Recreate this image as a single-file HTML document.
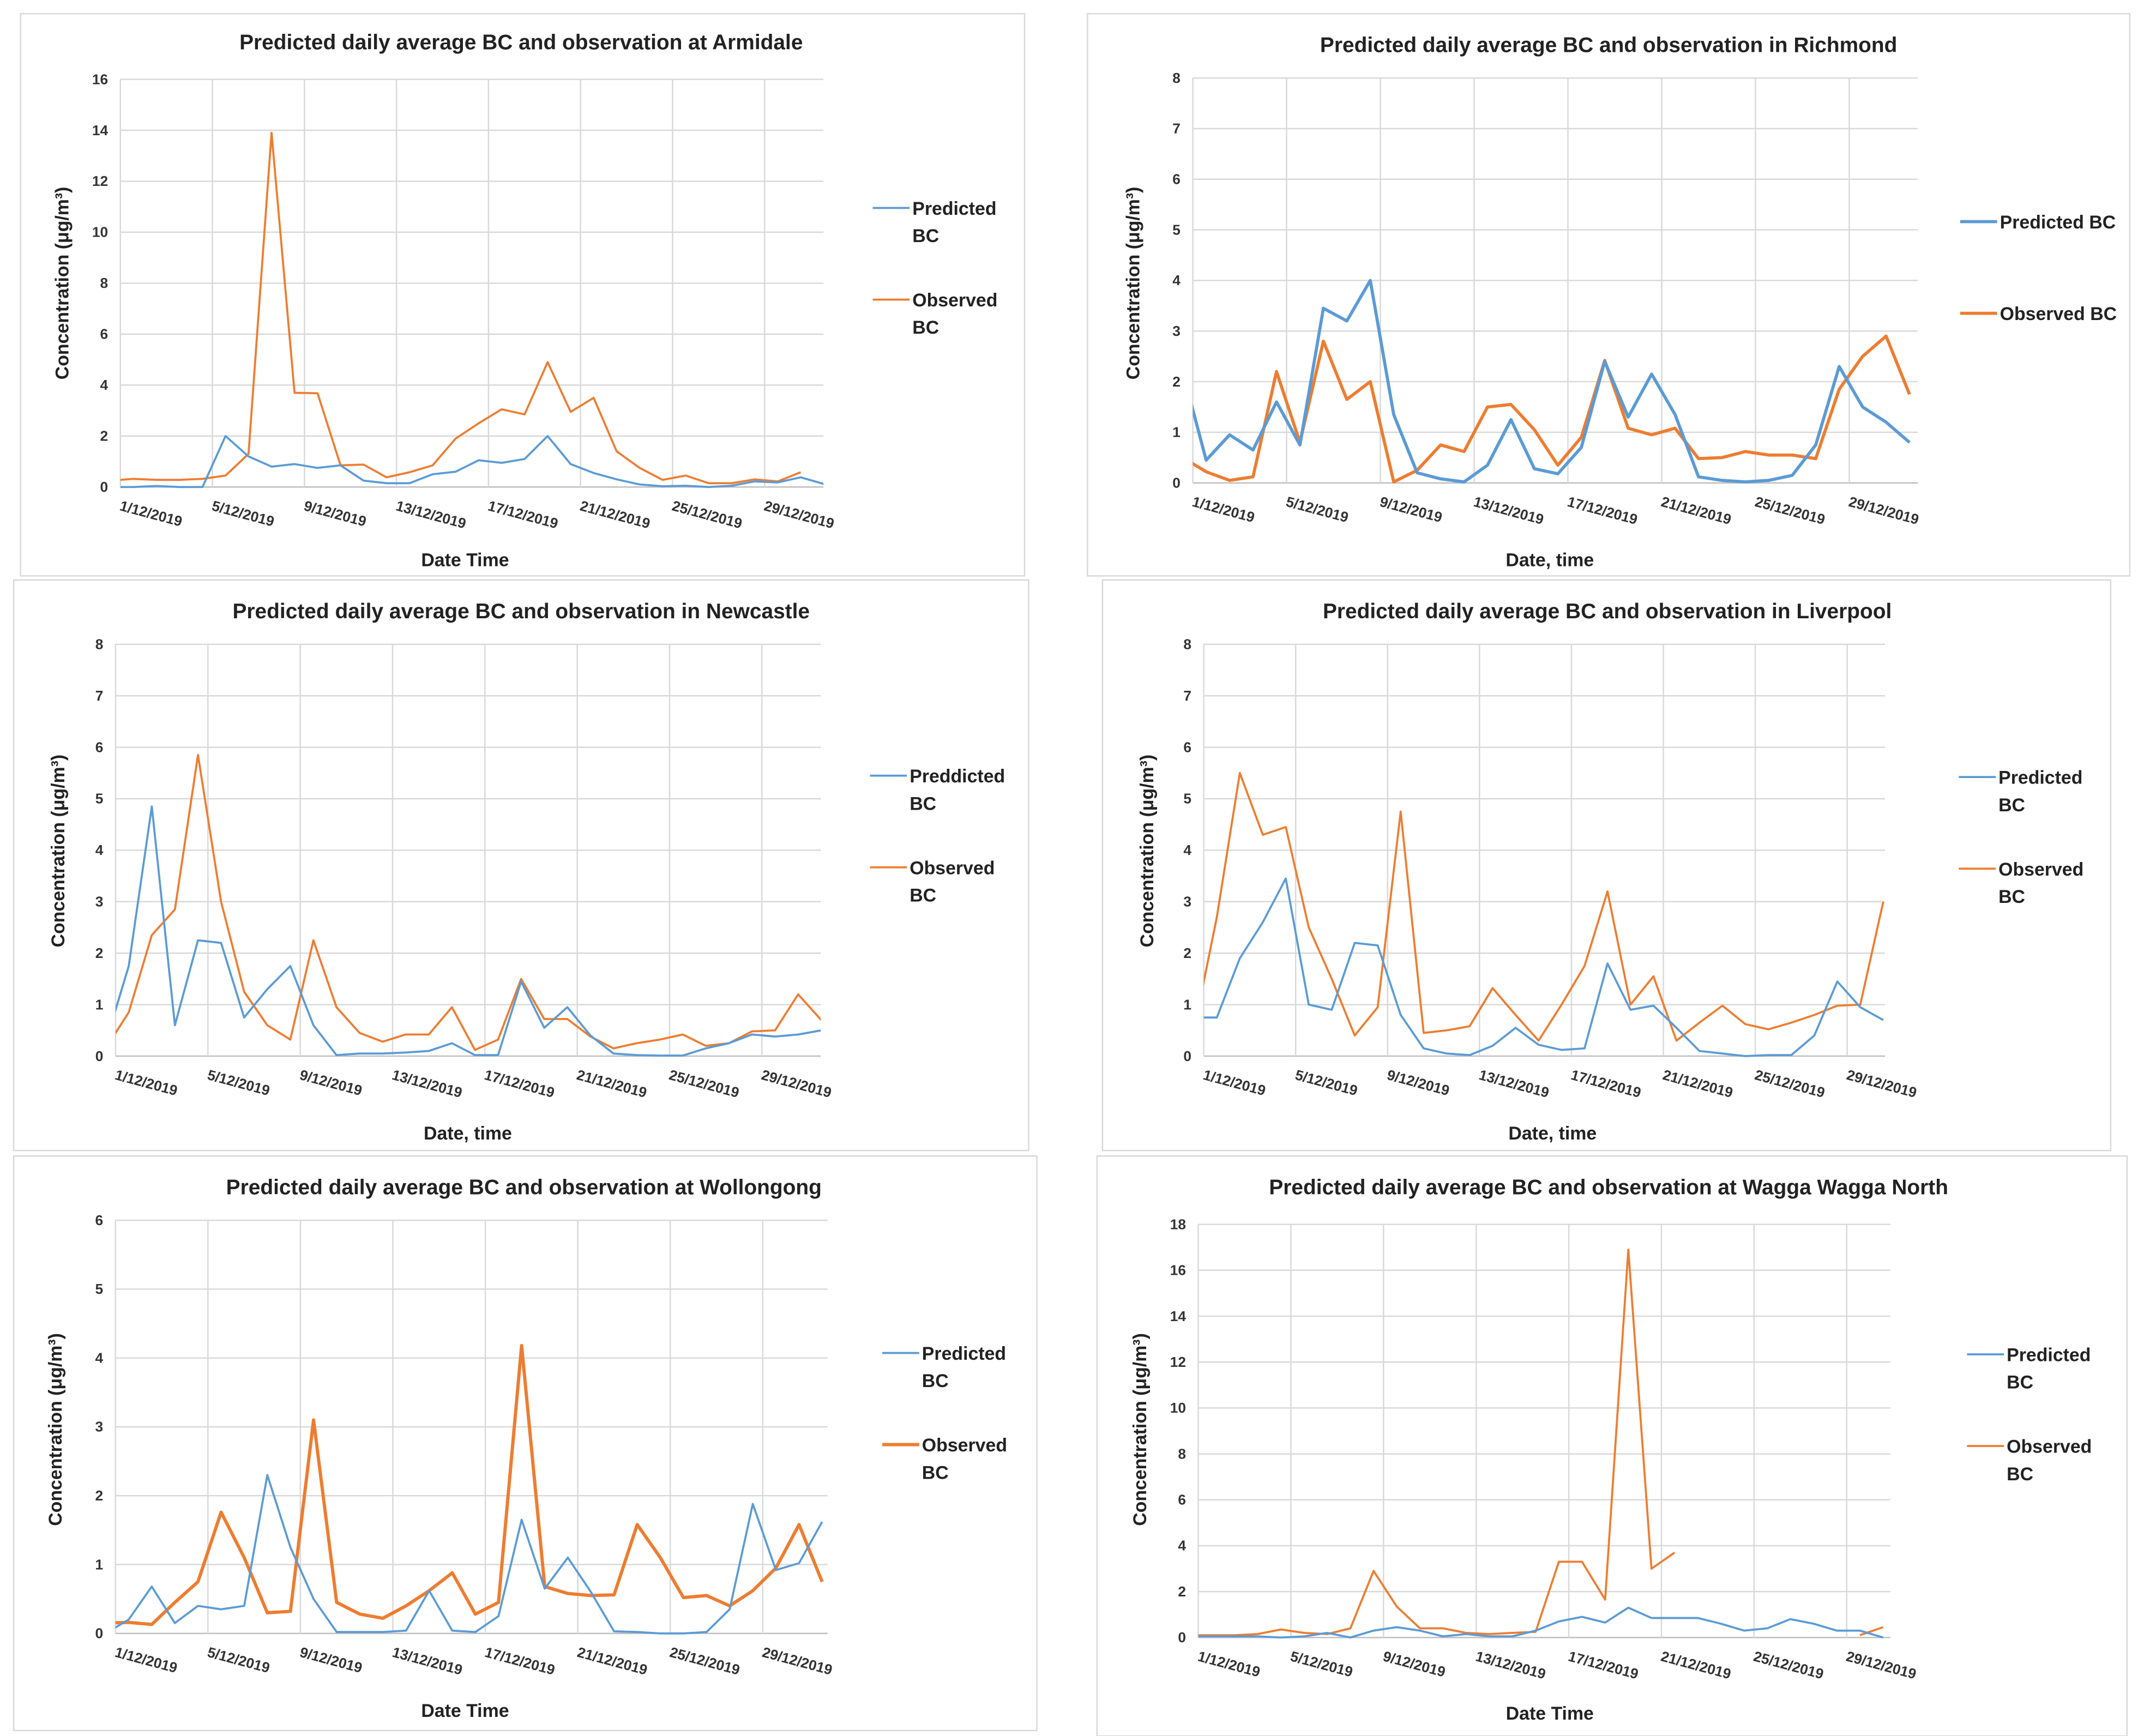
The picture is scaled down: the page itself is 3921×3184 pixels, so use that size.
<!DOCTYPE html>
<html><head><meta charset="utf-8"><style>
html,body{margin:0;padding:0;background:#fff;}
svg{display:block;font-family:"Liberation Sans",Arial,sans-serif;}
.t{font-weight:bold;font-size:15.5px;fill:#222;}
.ax{font-weight:bold;font-size:13.5px;fill:#222;}
.tk{font-weight:bold;font-size:10.5px;fill:#333;}
.lg{font-weight:bold;font-size:13.5px;fill:#222;}
</style></head><body>
<svg id="root" width="3921" height="3184" viewBox="0 0 1563 1269" preserveAspectRatio="none" xmlns="http://www.w3.org/2000/svg"></svg>
<script>
const dateLabels = ["1/12/2019","5/12/2019","9/12/2019","13/12/2019","17/12/2019","21/12/2019","25/12/2019","29/12/2019"];
const armidalePred = [0,0,0.04,0,0,2.0,1.2,0.8,0.9,0.75,0.85,0.25,0.15,0.15,0.5,0.6,1.05,0.95,1.1,2.0,0.9,0.55,0.3,0.1,0.03,0.05,0,0.05,0.22,0.18,0.38,0.12];
const armidaleObs = [0.25,0.32,0.28,0.28,0.32,0.45,1.3,13.9,3.7,3.68,0.85,0.88,0.38,0.58,0.85,1.9,2.5,3.05,2.85,4.9,2.95,3.5,1.4,0.75,0.28,0.45,0.15,0.15,0.3,0.22,0.58,null];
const richmondPred = [2.2,0.45,0.95,0.65,1.6,0.75,3.45,3.2,4.0,1.35,0.2,0.08,0.02,0.35,1.25,0.28,0.18,0.7,2.4,1.3,2.15,1.35,0.12,0.05,0.02,0.05,0.15,0.75,2.3,1.5,1.2,0.8];
const richmondObs = [0.5,0.22,0.05,0.12,2.2,0.8,2.8,1.65,2.0,0.02,0.25,0.75,0.62,1.5,1.55,1.05,0.35,0.9,2.42,1.08,0.95,1.08,0.48,0.5,0.62,0.55,0.55,0.48,1.85,2.5,2.9,1.75];
const newcastlePred = [0.26,1.75,4.85,0.6,2.25,2.2,0.75,1.3,1.75,0.6,0.02,0.05,0.05,0.07,0.1,0.25,0.02,0.02,1.45,0.55,0.95,0.4,0.05,0.02,0.01,0.01,0.15,0.25,0.42,0.38,0.42,0.5];
const newcastleObs = [0.15,0.85,2.35,2.85,5.85,3.0,1.25,0.6,0.32,2.25,0.95,0.45,0.28,0.42,0.42,0.95,0.12,0.32,1.5,0.72,0.72,0.38,0.15,0.25,0.32,0.42,0.2,0.25,0.48,0.5,1.2,0.7];
const liverpoolPred = [0.75,0.75,1.9,2.6,3.45,1.0,0.9,2.2,2.15,0.8,0.15,0.05,0.02,0.2,0.55,0.22,0.12,0.15,1.8,0.9,0.98,0.55,0.1,0.05,0.0,0.02,0.02,0.4,1.45,0.95,0.7];
const liverpoolObs = [0.5,2.7,5.5,4.3,4.45,2.5,1.5,0.4,0.95,4.75,0.45,0.5,0.58,1.32,0.8,0.3,1.0,1.75,3.2,1.0,1.55,0.3,0.65,0.98,0.62,0.52,0.65,0.8,0.98,1.0,3.0];
const wollongongPred = [0.0,0.2,0.68,0.15,0.4,0.35,0.4,2.3,1.25,0.5,0.02,0.02,0.02,0.04,0.62,0.04,0.02,0.25,1.65,0.65,1.1,0.6,0.03,0.02,0,0,0.02,0.35,1.88,0.92,1.02,1.62];
const wollongongObs = [0.15,0.16,0.13,0.45,0.75,1.76,1.1,0.3,0.32,3.1,0.45,0.28,0.22,0.4,0.62,0.88,0.28,0.45,4.18,0.68,0.58,0.55,0.56,1.58,1.1,0.52,0.55,0.4,0.62,0.95,1.58,0.75];
const waggaPred = [0.05,0.05,0.05,0.05,0.0,0.05,0.2,0.0,0.3,0.45,0.3,0.05,0.15,0.05,0.05,0.3,0.7,0.9,0.65,1.3,0.85,0.85,0.85,0.6,0.3,0.4,0.8,0.6,0.3,0.3,0.0];
const waggaObs = [0.1,0.1,0.1,0.15,0.35,0.2,0.15,0.4,2.9,1.35,0.4,0.4,0.2,0.15,0.2,0.25,3.3,3.3,1.65,16.9,3.0,3.7,null,null,null,null,null,null,null,0.1,0.45];

const NS="http://www.w3.org/2000/svg";
const root=document.getElementById('root');
function mk(tag,attrs,parent){const e=document.createElementNS(NS,tag);for(const k in attrs)e.setAttribute(k,attrs[k]);(parent||root).appendChild(e);return e;}

const panels=[
 {id:'armidale',fr:[15,10,734,411],title:'Predicted daily average BC and observation at Armidale',tx:381,ty:31,
  xg0:88,dd:16.82,xr:602,yb:356,yt:58,ymax:16,step:2,pred:armidalePred,obs:armidaleObs,
  lgx:638,lgy:152,lp:['Predicted','BC'],lo:['Observed','BC'],xt:'Date Time',xtx:340,xty:409,ytx:45,yty:207,pw:1.5,ow:1.5},
 {id:'richmond',fr:[795,10,762,411],title:'Predicted daily average BC and observation in Richmond',tx:1176,ty:33,
  xg0:872,dd:17.14,xr:1402,yb:353,yt:57,ymax:8,step:1,pred:richmondPred,obs:richmondObs,
  lgx:1433,lgy:162,lp:['Predicted BC'],lo:['Observed BC'],xt:'Date, time',xtx:1133,xty:409,ytx:828,yty:207,pw:2.3,ow:2.3},
 {id:'newcastle',fr:[10,424,742,417],title:'Predicted daily average BC and observation in Newcastle',tx:381,ty:447,
  xg0:84.5,dd:16.875,xr:600,yb:772,yt:471,ymax:8,step:1,pred:newcastlePred,obs:newcastleObs,
  lgx:636,lgy:567,lp:['Preddicted','BC'],lo:['Observed','BC'],xt:'Date, time',xtx:342,xty:828,ytx:42,yty:622,pw:1.5,ow:1.5},
 {id:'liverpool',fr:[806,424,737,417],title:'Predicted daily average BC and observation in Liverpool',tx:1175,ty:447,
  xg0:880,dd:16.8,xr:1378,yb:772,yt:471,ymax:8,step:1,pred:liverpoolPred,obs:liverpoolObs,
  lgx:1432,lgy:568,lp:['Predicted','BC'],lo:['Observed','BC'],xt:'Date, time',xtx:1135,xty:828,ytx:838,yty:622,pw:1.5,ow:1.5},
 {id:'wollongong',fr:[10,845,748,420],title:'Predicted daily average BC and observation at Wollongong',tx:383,ty:868,
  xg0:84.4,dd:16.9,xr:605,yb:1194,yt:892,ymax:6,step:1,pred:wollongongPred,obs:wollongongObs,
  lgx:645,lgy:989,lp:['Predicted','BC'],lo:['Observed','BC'],xt:'Date Time',xtx:340,xty:1250,ytx:40,yty:1045,pw:1.5,ow:2.4},
 {id:'wagga',fr:[802,845,753,424],title:'Predicted daily average BC and observation at Wagga Wagga North',tx:1176,ty:868,
  xg0:876,dd:16.93,xr:1382,yb:1197,yt:895,ymax:18,step:2,pred:waggaPred,obs:waggaObs,
  lgx:1438,lgy:990,lp:['Predicted','BC'],lo:['Observed','BC'],xt:'Date Time',xtx:1133,xty:1252,ytx:833,yty:1045,pw:1.5,ow:1.5}
];
const BLUE='#5b9bd5', ORANGE='#ed7d31';

panels.forEach(p=>{
  const g=mk('g',{});
  
  
  const fr=mk('rect',{x:p.fr[0],y:p.fr[1],width:p.fr[2],height:p.fr[3],fill:'#fff',stroke:'#d9d9d9','stroke-width':1},g);
  
  
  const yS=v=>p.yb-(v/p.ymax)*(p.yb-p.yt);
  const xS=i=>p.xg0+(i-0.43)*p.dd;
  for(let v=0;v<=p.ymax+1e-9;v+=p.step){
    const y=yS(v);
    const gl=mk('line',{x1:p.xg0,x2:p.xr,y1:y,y2:y,stroke:v===0?'#bfbfbf':'#d9d9d9','stroke-width':1},g);
    
    
    const t=mk('text',{x:p.xg0-9,y:y+3.5,'text-anchor':'end',class:'tk'},g);
    t.textContent=String(v);
    
    
  }
  dateLabels.forEach((d,k)=>{
    const x=p.xg0+k*4*p.dd;
    const vl=mk('line',{x1:x,x2:x,y1:p.yt,y2:p.yb,stroke:'#d9d9d9','stroke-width':1},g);
    
    
    const t=mk('text',{x:x,y:p.yb+17,class:'tk',transform:`rotate(15 ${x} ${p.yb+13})`},g);
    t.textContent=d;
    
    
  });
  const cp=mk('clipPath',{id:'clip-'+p.id},g);
  mk('rect',{x:p.xg0,y:p.yt-20,width:p.xr-p.xg0,height:p.yb-p.yt+30},cp);
  function series(arr,color,w,name){
    let d='',pen=false;
    arr.forEach((v,i)=>{
      if(v===null){pen=false;return;}
      d+=(pen?'L':'M')+xS(i).toFixed(2)+' '+yS(v).toFixed(2)+' ';pen=true;
    });
    const path=mk('path',{d:d,fill:'none',stroke:color,'stroke-width':w,'stroke-linejoin':'round','clip-path':`url(#clip-${p.id})`},g);
    
    
  }
  series(p.obs,ORANGE,p.ow,p.id+'-observed-line');
  series(p.pred,BLUE,p.pw,p.id+'-predicted-line');
  const tt=mk('text',{x:p.tx,y:p.ty+5,'text-anchor':'middle',class:'t'},g);
  tt.textContent=p.title;
  
  
  const xt=mk('text',{x:p.xtx,y:p.xty+5,'text-anchor':'middle',class:'ax'},g);
  xt.textContent=p.xt;
  
  
  const yt=mk('text',{x:p.ytx,y:p.yty,'text-anchor':'middle',class:'ax',transform:`rotate(-90 ${p.ytx} ${p.yty})`,dy:'5'},g);
  yt.textContent='Concentration (μg/m³)';
  
  
  [[p.lp,BLUE,p.pw,p.lgy,'legend-predicted'],[p.lo,ORANGE,p.ow,p.lgy+67,'legend-observed']].forEach(([lines,col,w,y,nm])=>{
    const lg=mk('g',{},g);
    
    
    mk('line',{x1:p.lgx,x2:p.lgx+27,y1:y,y2:y,stroke:col,'stroke-width':w},lg);
    lines.forEach((s,j)=>{
      const t=mk('text',{x:p.lgx+29,y:y+5+j*20,class:'lg'},lg);
      t.textContent=s;
      
      
    });
  });
});
</script>
</body></html>
